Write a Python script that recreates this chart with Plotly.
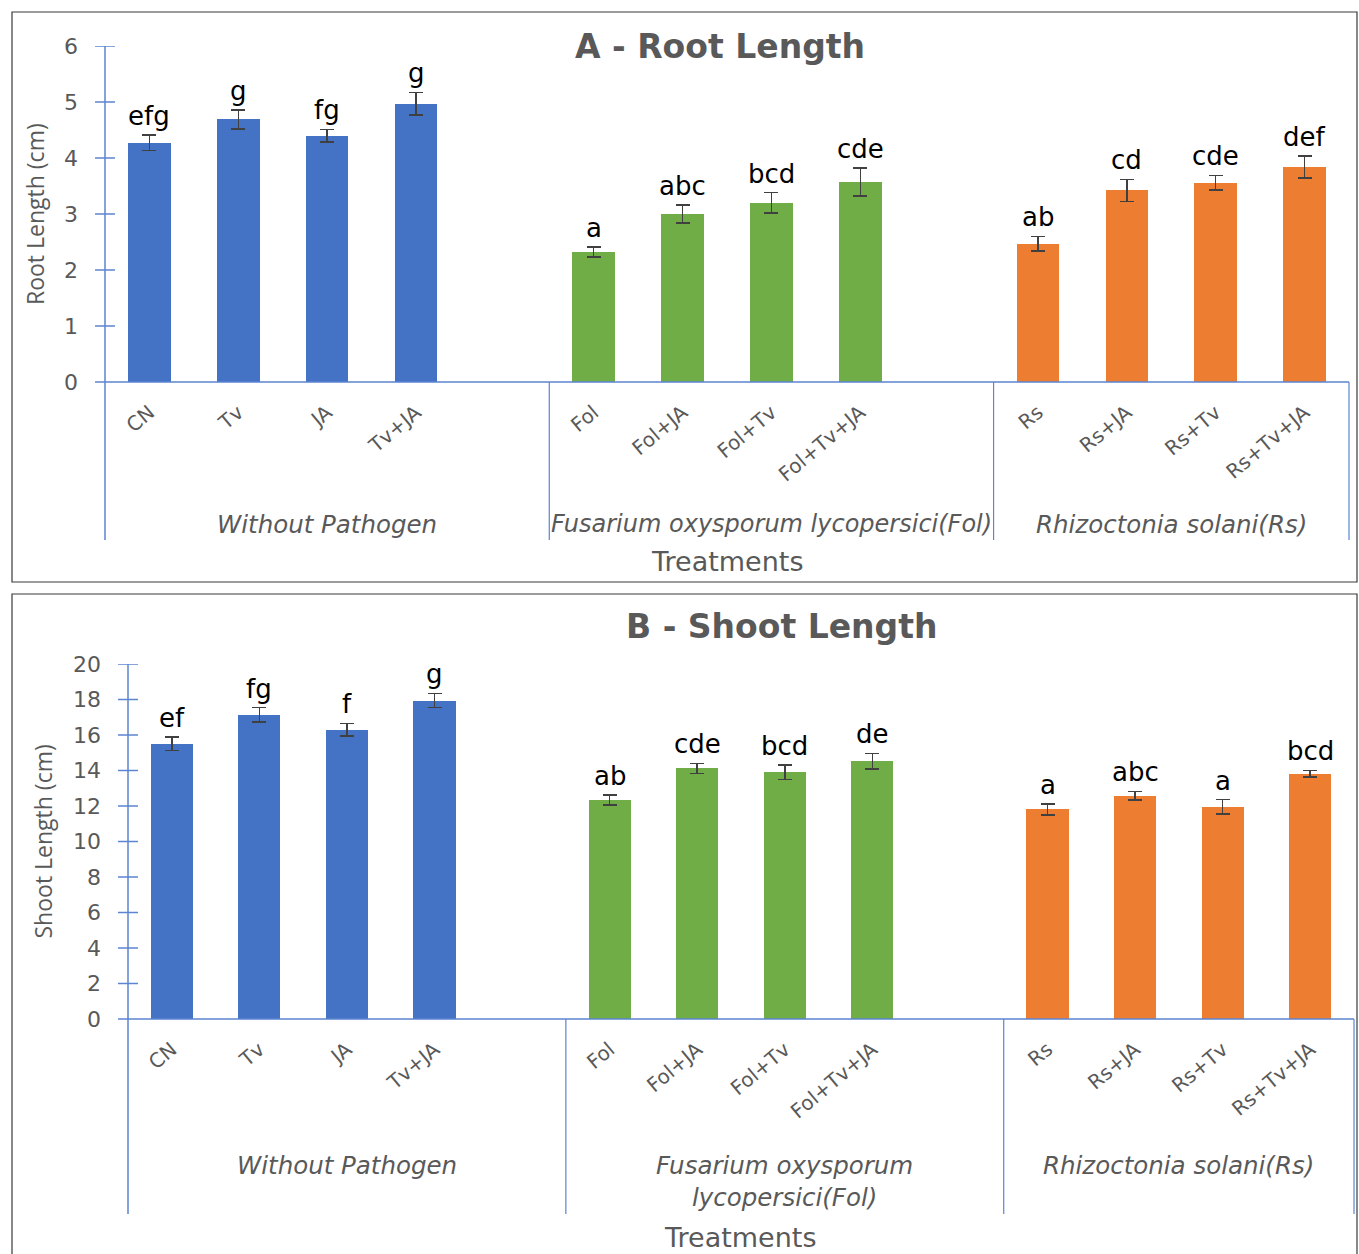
import plotly.graph_objects as go

# ---------------- data ----------------
groups_A = ["Without Pathogen", "Fusarium oxysporum lycopersici(Fol)", "Rhizoctonia solani(Rs)"]
groups_B = ["Without Pathogen", "Fusarium oxysporum<br>lycopersici(Fol)", "Rhizoctonia solani(Rs)"]
treatments = [["CN", "Tv", "JA", "Tv+JA"],
              ["Fol", "Fol+JA", "Fol+Tv", "Fol+Tv+JA"],
              ["Rs", "Rs+JA", "Rs+Tv", "Rs+Tv+JA"]]

root_vals = [4.27, 4.69, 4.40, 4.97, 2.32, 3.00, 3.20, 3.57, 2.47, 3.42, 3.56, 3.84]
root_err = [0.14, 0.17, 0.11, 0.20, 0.09, 0.16, 0.18, 0.25, 0.13, 0.20, 0.13, 0.20]
root_letters = ["efg", "g", "fg", "g", "a", "abc", "bcd", "cde", "ab", "cd", "cde", "def"]

shoot_vals = [15.51, 17.14, 16.30, 17.94, 12.35, 14.12, 13.90, 14.52, 11.81, 12.58, 11.96, 13.82]
shoot_err = [0.38, 0.40, 0.35, 0.40, 0.28, 0.28, 0.40, 0.44, 0.31, 0.24, 0.40, 0.19]
shoot_letters = ["ef", "fg", "f", "g", "ab", "cde", "bcd", "de", "a", "abc", "a", "bcd"]

colors = ["#4472C4", "#70AD47", "#ED7D31"]

# ---------------- layout helpers ----------------
W, H = 1359, 1254
def fx(p): return p / W
def fy(p): return 1 - p / H

AX = "#5B84D2"
GRAY = "#595959"
FONT = "Open Sans, Noto Sans, sans-serif"
WFONT = "DejaVu Sans, Verdana, sans-serif"

fig = go.Figure()
shapes = []
annotations = []

panels = [
    dict(vals=root_vals, err=root_err, letters=root_letters, groups=groups_A,
         xa="x", ya="y", xl=105, xr=1349, y0=382, ytop=46, ymax=6, dtick=1, ybot=540,
         title="A - Root Length", title_xy=(720, 46), ytitle="Root Length (cm)", ytitle_x=35,
         group_y=[524, 524, 524], treat_y=561, treat_x=727, frame=(12, 12, 1357, 582)),
    dict(vals=shoot_vals, err=shoot_err, letters=shoot_letters, groups=groups_B,
         xa="x2", ya="y2", xl=128, xr=1354, y0=1019, ytop=664, ymax=20, dtick=2, ybot=1214,
         title="B - Shoot Length", title_xy=(782, 626), ytitle="Shoot Length (cm)", ytitle_x=42,
         group_y=[1165, 1181, 1165], treat_y=1237, treat_x=740, frame=(12, 594, 1357, 1270)),
]

for pi, P in enumerate(panels):
    pos, labels = [], []
    for g, tr in enumerate(treatments):
        for i, t in enumerate(tr):
            pos.append(g * 5 + i)
            labels.append(t)
    k = 0
    for g, tr in enumerate(treatments):
        n = len(tr)
        fig.add_trace(go.Bar(
            x=pos[k:k + n], y=P["vals"][k:k + n],
            width=0.48,
            marker=dict(color=colors[g], line=dict(width=0)),
            error_y=dict(type="data", array=P["err"][k:k + n], color="#404040", thickness=1.5, width=7),
            xaxis=P["xa"], yaxis=P["ya"], showlegend=False, hoverinfo="skip"))
        k += n
    for p, v, e, L in zip(pos, P["vals"], P["err"], P["letters"]):
        annotations.append(dict(x=p, y=v + e, xref=P["xa"], yref=P["ya"], text=L, showarrow=False,
                                yanchor="bottom", yshift=2, font=dict(family=WFONT, size=26, color="#000000")))
    xkey = "xaxis" if pi == 0 else "xaxis2"
    ykey = "yaxis" if pi == 0 else "yaxis2"
    fig.update_layout(**{
        xkey: dict(domain=[fx(P["xl"]), fx(P["xr"])], range=[-0.5, 13.5], anchor=P["ya"],
                   tickvals=pos, ticktext=labels, tickangle=-40, showline=False, showgrid=False,
                   zeroline=False, ticks="", ticklabelstandoff=14, automargin=False,
                   tickfont=dict(family=WFONT, size=20, color=GRAY)),
        ykey: dict(domain=[fy(P["y0"]), fy(P["ytop"])], range=[0, P["ymax"]], dtick=P["dtick"],
                   anchor=P["xa"], showline=False, showgrid=False, zeroline=False, ticks="",
                   ticklabelstandoff=26, automargin=False, tickfont=dict(family=WFONT, size=22, color=GRAY)),
    })
    shapes.append(dict(type="line", xref="paper", yref="paper", x0=fx(P["xl"]), x1=fx(P["xl"]),
                       y0=fy(P["ytop"]), y1=fy(P["ybot"]), line=dict(color=AX, width=1.5)))
    shapes.append(dict(type="line", xref="paper", yref="paper", x0=fx(P["xl"] - 10), x1=fx(P["xr"]),
                       y0=fy(P["y0"]), y1=fy(P["y0"]), line=dict(color=AX, width=1.5)))
    slot = (P["xr"] - P["xl"]) / 14
    for sx in [P["xl"] + 5 * slot, P["xl"] + 10 * slot, P["xr"]]:
        shapes.append(dict(type="line", xref="paper", yref="paper", x0=fx(sx), x1=fx(sx),
                           y0=fy(P["y0"]), y1=fy(P["ybot"]), line=dict(color=AX, width=1.2)))
    t = P["dtick"]
    v = t
    while v <= P["ymax"] + 1e-9:
        shapes.append(dict(type="line", xref="paper", yref=P["ya"], x0=fx(P["xl"] - 10), x1=fx(P["xl"] + 10),
                           y0=v, y1=v, line=dict(color=AX, width=1.5)))
        v += t
    fl, ft, fr, fb = P["frame"]
    shapes.append(dict(type="rect", xref="paper", yref="paper", x0=fx(fl), x1=fx(fr), y0=fy(fb), y1=fy(ft),
                       line=dict(color="#3a3a3a", width=1.2), fillcolor="rgba(0,0,0,0)", layer="above"))
    annotations.append(dict(x=fx(P["title_xy"][0]), y=fy(P["title_xy"][1]), xref="paper", yref="paper",
                            text="<b>" + P["title"] + "</b>", showarrow=False, xanchor="center", yanchor="middle",
                            font=dict(family=WFONT, size=33, color=GRAY)))
    annotations.append(dict(x=fx(P["ytitle_x"]), y=fy((P["y0"] + P["ytop"]) / 2), xref="paper", yref="paper",
                            text=P["ytitle"], showarrow=False, textangle=-90, xanchor="center", yanchor="middle",
                            font=dict(family=FONT, size=23, color=GRAY)))
    bounds = [P["xl"], P["xl"] + 5 * slot, P["xl"] + 10 * slot, P["xr"]]
    for g, name in enumerate(P["groups"]):
        cx = (bounds[g] + bounds[g + 1]) / 2
        annotations.append(dict(x=fx(cx), y=fy(P["group_y"][g]), xref="paper", yref="paper",
                                text="<i>" + name + "</i>", showarrow=False, xanchor="center", yanchor="middle",
                                font=dict(family=WFONT, size=24 if (pi == 0 and g == 1) else 24.5, color=GRAY)))
    annotations.append(dict(x=fx(P["treat_x"]), y=fy(P["treat_y"]), xref="paper", yref="paper",
                            text="Treatments", showarrow=False, xanchor="center", yanchor="middle",
                            font=dict(family=WFONT, size=27, color=GRAY)))

fig.update_layout(width=W, height=H, margin=dict(l=0, r=0, t=0, b=0, autoexpand=False),
                  paper_bgcolor="white", plot_bgcolor="white",
                  shapes=shapes, annotations=annotations, bargap=0)
fig.write_html("out.html", config={"displayModeBar": False},
               post_script="document.documentElement.style.margin='0';document.documentElement.style.overflow='hidden';"
                           "document.body.style.margin='0';document.body.style.padding='0';"
                           "document.body.style.overflow='hidden';"
                           "var d=document.getElementById('{plot_id}');d.style.position='absolute';"
                           "d.style.left='0px';d.style.top='0px';")
